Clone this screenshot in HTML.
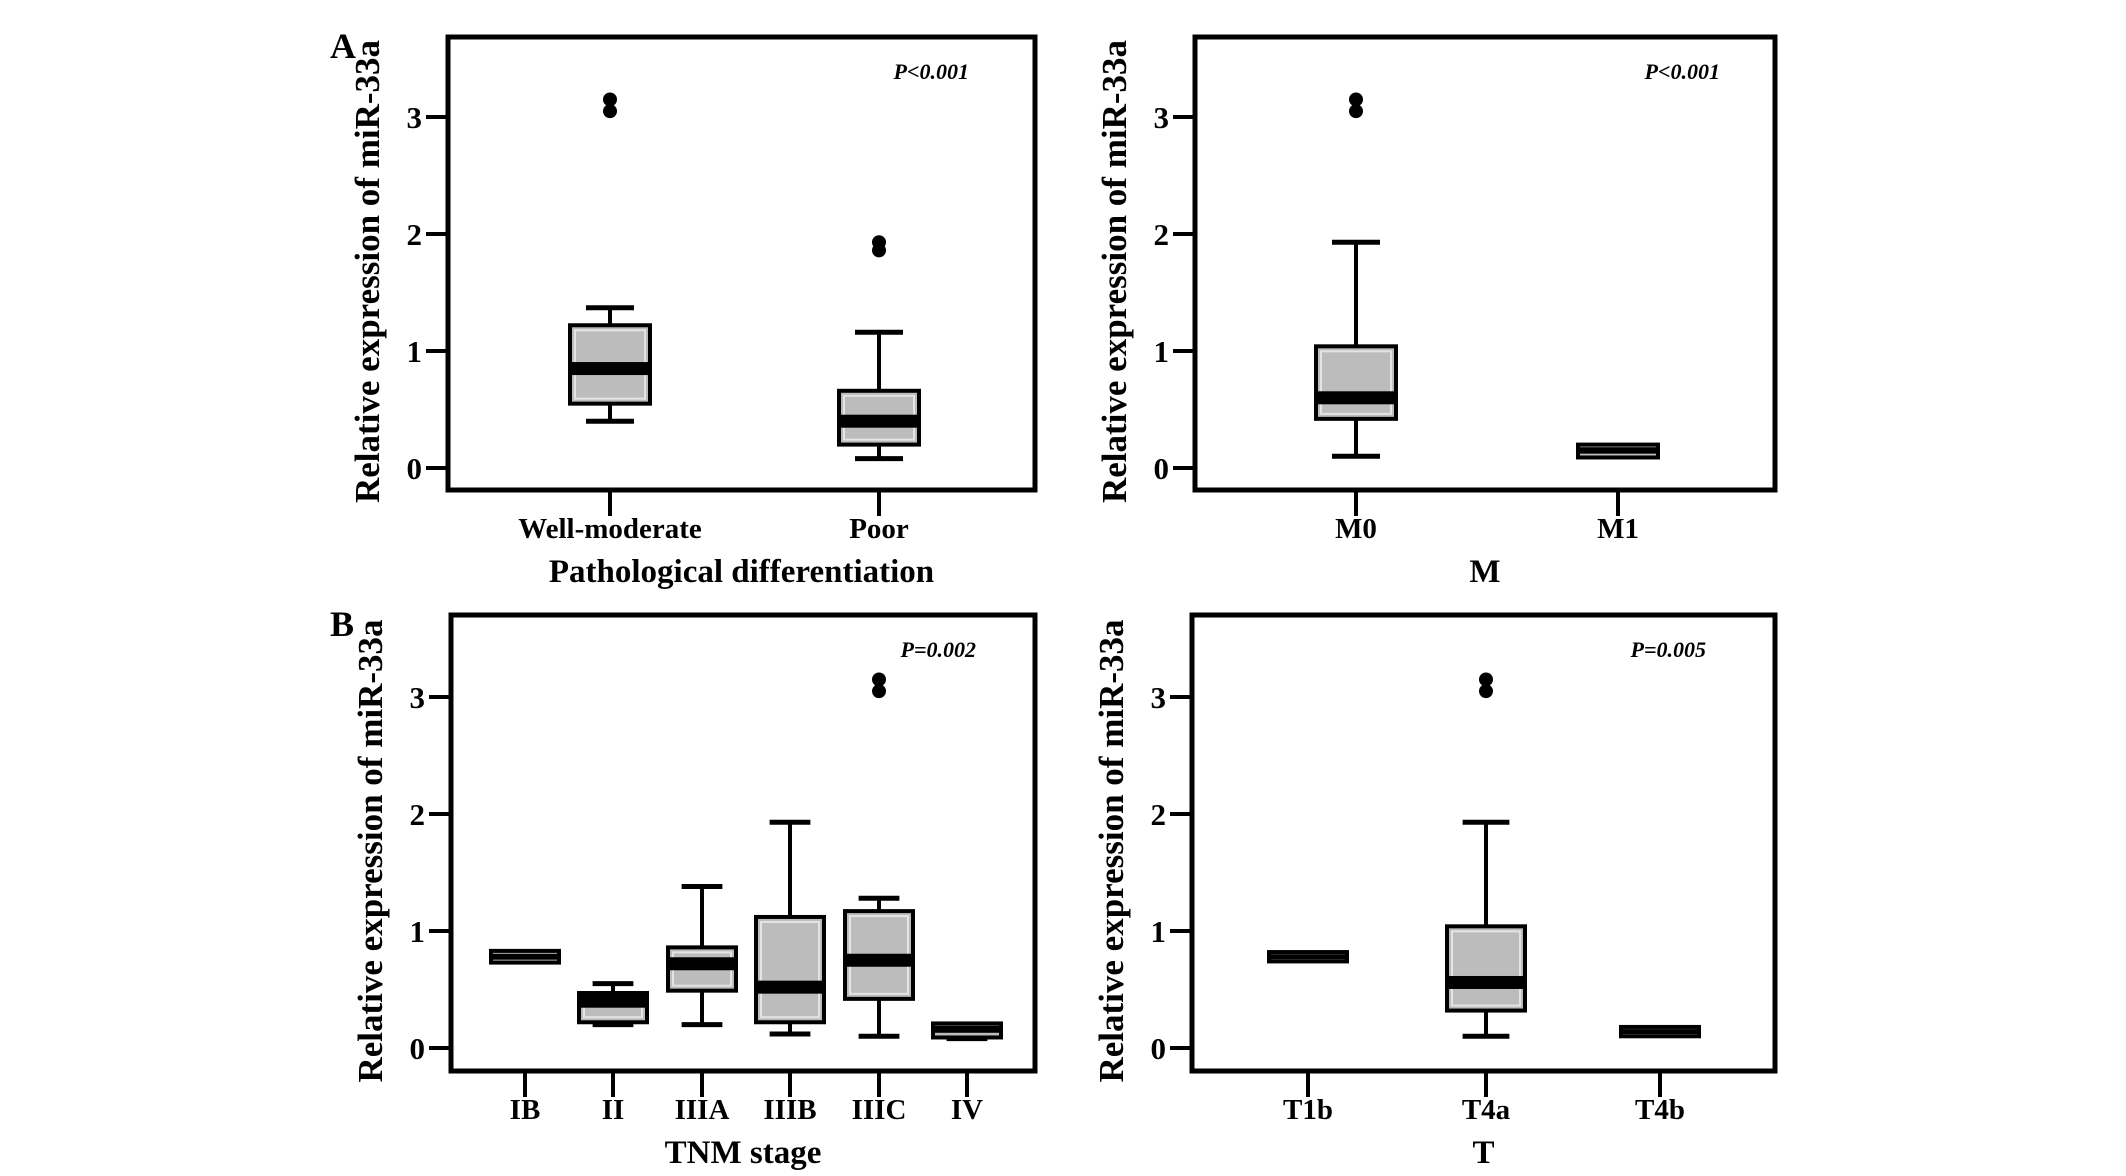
<!DOCTYPE html>
<html><head><meta charset="utf-8"><style>
html,body{margin:0;padding:0;background:#fff;}
svg{display:block;font-family:"Liberation Serif",serif;font-weight:bold;}
</style></head><body>
<svg id="fig" width="2126" height="1176" viewBox="0 0 2126 1176" xmlns="http://www.w3.org/2000/svg"></svg>
<script>
// Panel data
const catsPath = ["Well-moderate","Poor"];
const lowPath = [0.40,0.08], q1Path = [0.55,0.20], medPath = [0.85,0.40], q3Path = [1.22,0.66], highPath = [1.37,1.16];
const outPath = [[3.05,3.15],[1.86,1.93]];
const catsM = ["M0","M1"];
const lowM = [0.10,0.09], q1M = [0.42,0.09], medM = [0.60,0.15], q3M = [1.04,0.20], highM = [1.93,0.20];
const outM = [[3.05,3.15],[]];
const catsTNM = ["IB","II","IIIA","IIIB","IIIC","IV"];
const lowTNM = [0.73,0.20,0.20,0.12,0.10,0.08], q1TNM = [0.73,0.22,0.49,0.22,0.42,0.09], medTNM = [0.78,0.40,0.72,0.52,0.75,0.16], q3TNM = [0.83,0.47,0.86,1.12,1.17,0.21], highTNM = [0.83,0.55,1.38,1.93,1.28,0.21];
const outTNM = [[],[],[],[],[3.05,3.15],[]];
const catsT = ["T1b","T4a","T4b"];
const lowT = [0.74,0.10,0.10], q1T = [0.74,0.32,0.10], medT = [0.78,0.56,0.14], q3T = [0.82,1.04,0.18], highT = [0.82,1.93,0.18];
const outT = [[],[3.05,3.15],[]];
const yTicks = [0,1,2,3];

const NS="http://www.w3.org/2000/svg";
const svg=document.getElementById('fig');
function mk(tag,attrs,parent){const e=document.createElementNS(NS,tag);for(const k in attrs)e.setAttribute(k,attrs[k]);(parent||svg).appendChild(e);return e;}

function panel(o){
  const g=mk('g',{});
  
  
  const y=v=>o.y0-v*o.unit;
  const x=i=>o.xs[i];
  const fr=mk('rect',{x:o.L,y:o.T,width:o.R-o.L,height:o.B-o.T,fill:'none',stroke:'#000','stroke-width':5},g);
  
  
  yTicks.forEach(t=>{
    const l=mk('line',{x1:o.L-22,x2:o.L,y1:y(t),y2:y(t),stroke:'#000','stroke-width':4},g);
    
    
    const tx=mk('text',{x:o.L-26,y:y(t)+11,'text-anchor':'end','font-size':31},g);
    tx.textContent=t;
    
    
  });
  const yt=mk('text',{x:0,y:0,'text-anchor':'middle','font-size':35,transform:`translate(${o.L-69},${(o.T+o.B)/2+8}) rotate(-90)`},g);
  yt.textContent='Relative expression of miR-33a';
  
  
  o.cats.forEach((c,i)=>{
    const xt=mk('line',{x1:x(i),x2:x(i),y1:o.B,y2:o.B+26,stroke:'#000','stroke-width':4},g);
    
    
    const lb=mk('text',{x:x(i),y:o.B+48,'text-anchor':'middle','font-size':29},g);
    lb.textContent=c;
    
    
    const hw=o.bw/2, cw=o.bw*0.3;
    const bg=mk('g',{},g);
    
    
    if(o.high[i]>o.q3[i]){
      mk('line',{x1:x(i),x2:x(i),y1:y(o.q3[i]),y2:y(o.high[i]),stroke:'#000','stroke-width':4},bg);
      mk('line',{x1:x(i)-cw,x2:x(i)+cw,y1:y(o.high[i]),y2:y(o.high[i]),stroke:'#000','stroke-width':5},bg);
    }
    if(o.low[i]<o.q1[i]){
      mk('line',{x1:x(i),x2:x(i),y1:y(o.q1[i]),y2:y(o.low[i]),stroke:'#000','stroke-width':4},bg);
      mk('line',{x1:x(i)-cw,x2:x(i)+cw,y1:y(o.low[i]),y2:y(o.low[i]),stroke:'#000','stroke-width':5},bg);
    }
    const h=Math.max(y(o.q1[i])-y(o.q3[i]),2);
    mk('rect',{x:x(i)-hw,y:y(o.q3[i]),width:o.bw,height:h,fill:'#bcbcbc',stroke:'#000','stroke-width':4},bg);
    if(h>16) mk('rect',{x:x(i)-hw+5,y:y(o.q3[i])+5,width:o.bw-10,height:h-10,fill:'none',stroke:'#e4e4e4','stroke-width':2},bg);
    const mh=Math.min(13,Math.max(h*0.5,5));
    mk('rect',{x:x(i)-hw,y:y(o.med[i])-mh/2,width:o.bw,height:mh,fill:'#000'},bg);
    o.out[i].forEach(v=>{
      const d=mk('circle',{cx:x(i),cy:y(v),r:7,fill:'#000'},g);
      
      
    });
  });
  const xtT=mk('text',{x:(o.L+o.R)/2,y:o.B+92,'text-anchor':'middle','font-size':33},g);
  xtT.textContent=o.xtitle;
  
  
  const p=mk('text',{x:o.pX,y:o.T+42,'text-anchor':'end','font-size':22,'font-style':'italic'},g);
  p.textContent=o.p;
  
  
}

panel({name:'panel-pathological',L:448,R:1035,T:37,B:490,y0:468,unit:117,xs:[610,879],bw:80,cats:catsPath,low:lowPath,q1:q1Path,med:medPath,q3:q3Path,high:highPath,out:outPath,xtitle:'Pathological differentiation',p:'P<0.001',pX:969});
panel({name:'panel-m',L:1195,R:1775,T:37,B:490,y0:468,unit:117,xs:[1356,1618],bw:80,cats:catsM,low:lowM,q1:q1M,med:medM,q3:q3M,high:highM,out:outM,xtitle:'M',p:'P<0.001',pX:1720});
panel({name:'panel-tnm',L:451,R:1035,T:615,B:1071,y0:1048,unit:117,xs:[525,613,702,790,879,967],bw:68,cats:catsTNM,low:lowTNM,q1:q1TNM,med:medTNM,q3:q3TNM,high:highTNM,out:outTNM,xtitle:'TNM stage',p:'P=0.002',pX:976});
panel({name:'panel-t',L:1192,R:1775,T:615,B:1071,y0:1048,unit:117,xs:[1308,1486,1660],bw:78,cats:catsT,low:lowT,q1:q1T,med:medT,q3:q3T,high:highT,out:outT,xtitle:'T',p:'P=0.005',pX:1706});

const A=mk('text',{x:330,y:58,'font-size':36});A.textContent='A';


const B=mk('text',{x:330,y:636,'font-size':36});B.textContent='B';


</script>
</body></html>
